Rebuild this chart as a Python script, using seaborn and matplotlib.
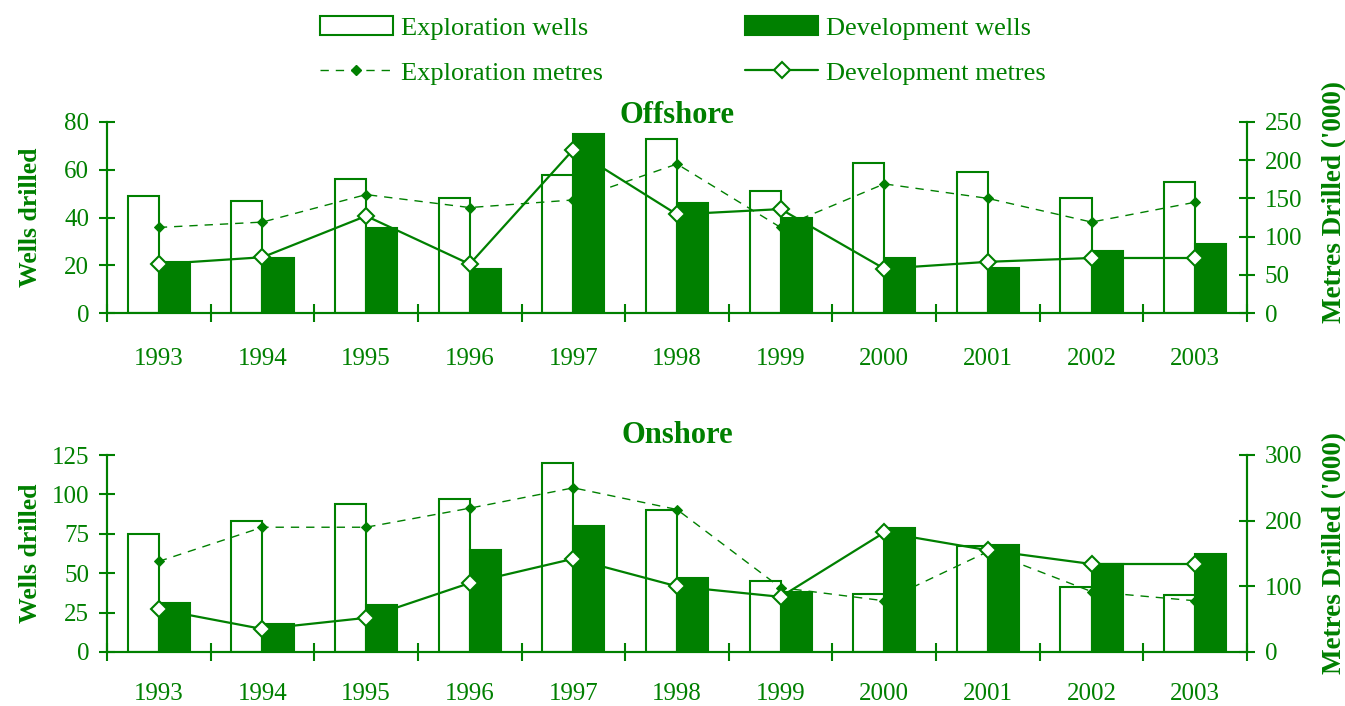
import numpy as np
import pandas as pd
import matplotlib
matplotlib.use("Agg")
import matplotlib.pyplot as plt
from matplotlib.patches import Patch
from matplotlib.lines import Line2D
import seaborn as sns

# ---------------- data ----------------
years = ["1993", "1994", "1995", "1996", "1997", "1998", "1999", "2000", "2001", "2002", "2003"]

off_expl_wells = [49, 47, 56, 48, 58, 73, 51, 63, 59, 48, 55]
off_dev_wells = [21.5, 23, 35.5, 18.5, 75, 46, 40, 23, 19, 26, 29]
off_expl_metres = [112, 119, 155, 138, 148, 195, 112, 169, 150, 119, 145]
off_dev_metres = [64, 73, 127, 64, 214, 129, 136, 58, 67, 72, 72]

on_expl_wells = [75, 83, 94, 97, 120, 90, 45, 37, 67, 41, 36]
on_dev_wells = [31, 18, 30, 65, 80, 47, 38, 78.5, 68, 56, 62]
on_expl_metres = [138, 190, 190, 219, 250, 217, 98, 78, 153, 92, 78]
on_dev_metres = [65, 35, 52, 105, 142, 100, 84, 182, 155, 134, 134]

off_left_ticks = [0, 20, 40, 60, 80]
off_right_ticks = [0, 50, 100, 150, 200, 250]
on_left_ticks = [0, 25, 50, 75, 100, 125]
on_right_ticks = [0, 100, 200, 300]

labels = ["Exploration wells", "Development wells", "Exploration metres", "Development metres"]

GREEN = "#008000"

sns.set_theme(style="white")
plt.rcParams["font.family"] = ["Liberation Serif", "DejaVu Serif"]
plt.rcParams["lines.scale_dashes"] = False
plt.rcParams["lines.dashed_pattern"] = [6, 5]

fig = plt.figure(figsize=(13.45, 7.06), dpi=100)
W, H = 1345, 706
L, R = 107, 1247
ax_top = fig.add_axes([L / W, 1 - 313 / H, (R - L) / W, (313 - 122) / H])
ax_bot = fig.add_axes([L / W, 1 - 652 / H, (R - L) / W, (652 - 455) / H])


def draw(ax, expl_w, dev_w, expl_m, dev_m, lticks, rticks, title, tpad, xpad, rlab_y):
    df = pd.DataFrame({
        "year": years * 2,
        "type": [labels[0]] * len(years) + [labels[1]] * len(years),
        "wells": list(expl_w) + list(dev_w),
    })
    sns.barplot(data=df, x="year", y="wells", hue="type", order=years,
                hue_order=[labels[0], labels[1]],
                palette={labels[0]: "white", labels[1]: GREEN},
                saturation=1, width=0.6, edgecolor=GREEN, linewidth=1.5,
                errorbar=None, legend=False, ax=ax)
    ax2 = ax.twinx()
    xpos = np.arange(len(years))
    sns.lineplot(x=xpos, y=expl_m, ax=ax2, color=GREEN, linestyle="--",
                 linewidth=1.0, marker="D", markersize=5.5,
                 markerfacecolor=GREEN, markeredgecolor=GREEN)
    sns.lineplot(x=xpos, y=dev_m, ax=ax2, color=GREEN, linestyle="-",
                 linewidth=1.6, marker="D", markersize=8.5,
                 markerfacecolor="white", markeredgecolor=GREEN,
                 markeredgewidth=1.5)
    ax.set_xlim(-0.5, len(years) - 0.5)
    ax.set_ylim(lticks[0], lticks[-1])
    ax2.set_ylim(rticks[0], rticks[-1])
    ax.set_yticks(lticks)
    ax2.set_yticks(rticks)
    ax.set_xticks(np.arange(-0.5, len(years), 1.0))
    ax.set_xticklabels([""] * len(np.arange(-0.5, len(years), 1.0)))
    ax.set_xticks(xpos, minor=True)
    ax.set_xticklabels(years, minor=True)
    ax.tick_params(axis="x", which="major", direction="inout", length=13,
                   width=1.5, color=GREEN, bottom=True)
    ax.tick_params(axis="x", which="minor", length=0, pad=xpad,
                   labelsize=18, labelcolor=GREEN, bottom=True)
    for a in (ax, ax2):
        a.tick_params(axis="y", direction="inout", length=11.5, width=1.5,
                      color=GREEN, labelcolor=GREEN, labelsize=18, pad=7)
        for s in a.spines.values():
            s.set_color(GREEN)
            s.set_linewidth(1.5)
        a.spines["top"].set_visible(False)
        a.grid(False)
        a.set_facecolor("none")
    ax.set_xlabel("")
    ax.set_ylabel("Wells drilled", fontsize=18.5, fontweight="bold", color=GREEN)
    ax.yaxis.set_label_coords(-0.057, 0.5)
    ax2.set_ylabel("Metres Drilled ('000)", fontsize=19.5, fontweight="bold", color=GREEN)
    ax2.yaxis.set_label_coords(1.066, rlab_y)
    ax.set_title(title, fontsize=22, fontweight="bold", color=GREEN, y=1.0, pad=tpad)


draw(ax_top, off_expl_wells, off_dev_wells, off_expl_metres, off_dev_metres,
     off_left_ticks, off_right_ticks, "Offshore", -1, 25, 0.58)
draw(ax_bot, on_expl_wells, on_dev_wells, on_expl_metres, on_dev_metres,
     on_left_ticks, on_right_ticks, "Onshore", 8.5, 22, 0.5)

handles = [
    Patch(facecolor="white", edgecolor=GREEN, linewidth=1.5),
    Line2D([], [], color=GREEN, linestyle="--", linewidth=1.0, marker="D",
           markersize=5, markerfacecolor=GREEN, markeredgecolor=GREEN),
    Patch(facecolor=GREEN, edgecolor=GREEN, linewidth=1.5),
    Line2D([], [], color=GREEN, linestyle="-", linewidth=1.6, marker="D",
           markersize=8, markerfacecolor="white", markeredgecolor=GREEN,
           markeredgewidth=1.5),
]
leg_labels = [labels[0], labels[2], labels[1], labels[3]]
fig.legend(handles, leg_labels, ncol=2, loc="upper left",
           bbox_to_anchor=(320 / W, 1 - 16 / H), frameon=False, fontsize=19,
           handlelength=2.76, handleheight=0.75, handletextpad=0.3,
           columnspacing=5.4, labelspacing=0.8, borderpad=0,
           borderaxespad=0, labelcolor=GREEN)

fig.savefig("out.png", dpi=100)
